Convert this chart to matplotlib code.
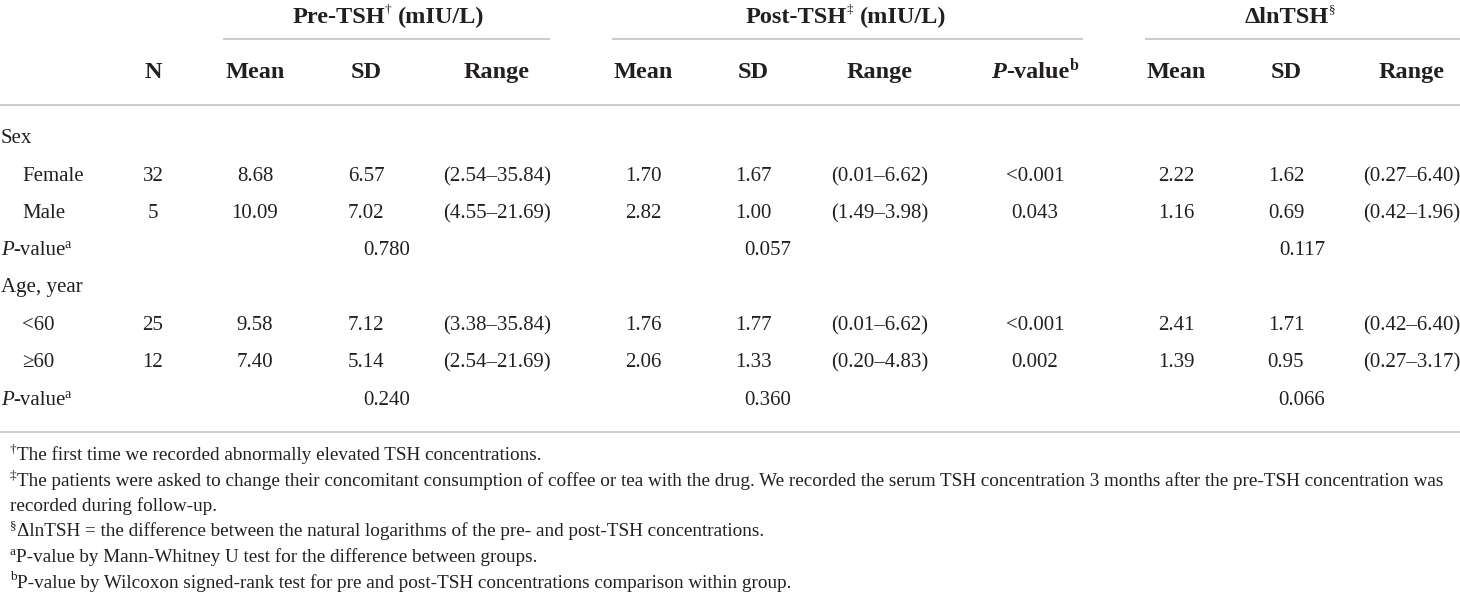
import matplotlib
matplotlib.use("Agg")
import matplotlib.pyplot as plt
from matplotlib.transforms import IdentityTransform
from matplotlib.lines import Line2D

# ---------------- data ----------------
group_labels = ["Sex", "Age, year"]
sub_labels = [["Female", "Male"], ["<60", "\u226560"]]
n_vals = [32, 5, 25, 12]
pre_mean = [8.68, 10.09, 9.58, 7.40]
pre_sd = [6.57, 7.02, 7.12, 5.14]
pre_lo = [2.54, 4.55, 3.38, 2.54]
pre_hi = [35.84, 21.69, 35.84, 21.69]
post_mean = [1.70, 2.82, 1.76, 2.06]
post_sd = [1.67, 1.00, 1.77, 1.33]
post_lo = [0.01, 1.49, 0.01, 0.20]
post_hi = [6.62, 3.98, 6.62, 4.83]
p_within = ["<0.001", "0.043", "<0.001", "0.002"]
d_mean = [2.22, 1.16, 2.41, 1.39]
d_sd = [1.62, 0.69, 1.71, 0.95]
d_lo = [0.27, 0.42, 0.42, 0.27]
d_hi = [6.40, 1.96, 6.40, 3.17]
p_between_pre = ["0.780", "0.240"]
p_between_post = ["0.057", "0.360"]
p_between_delta = ["0.117", "0.066"]
sub_headers = ["N", "Mean", "SD", "Range", "Mean", "SD", "Range", None, "Mean", "SD", "Range"]
footnotes = [
    ("\u2020", "The first time we recorded abnormally elevated TSH concentrations."),
    ("\u2021", "The patients were asked to change their concomitant consumption of coffee or tea with the drug. We recorded the serum TSH concentration 3 months after the pre-TSH concentration was"),
    ("", "recorded during follow-up."),
    ("\u00a7", "\u0394lnTSH = the difference between the natural logarithms of the pre- and post-TSH concentrations."),
    ("a", "P-value by Mann-Whitney U test for the difference between groups."),
    ("b", "P-value by Wilcoxon signed-rank test for pre and post-TSH concentrations comparison within group."),
]

# ---------------- layout ----------------
W, H = 1460, 594
fig = plt.figure(figsize=(W / 100, H / 100), dpi=100)
fig.patch.set_facecolor("white")
R = fig.canvas.get_renderer()
FAM = "Liberation Serif"
TXT = "#231f20"
LINE = "#cccccc"

BODY = 15.0
HEAD = 17.5
FOOT = 13.75


def T(x, base, s, size, weight="normal", style="normal", ha="left", dy=0.0):
    return fig.text(x, H - base + dy, s, transform=IdentityTransform(), fontsize=size,
                    fontweight=weight, fontstyle=style, ha=ha, va="baseline",
                    family=FAM, color=TXT)


def rich(x, base, segs, ha="center", base_size=BODY):
    objs = []
    total = 0.0
    for sg in segs:
        t = T(0, base, sg["text"], sg.get("size", base_size), sg.get("weight", "normal"),
              sg.get("style", "normal"), "left", sg.get("dy", 0.0))
        w = t.get_window_extent(R).width
        g = sg.get("gap", 0.0)
        objs.append((t, g, w))
        total += g + w
    cur = x - total / 2 if ha == "center" else x
    for t, g, w in objs:
        cur += g
        t.set_x(cur)
        cur += w


def hline(x0, x1, y, lw=1.5):
    fig.add_artist(Line2D([x0, x1], [H - y, H - y], transform=IdentityTransform(),
                          color=LINE, linewidth=lw, solid_capstyle="butt"))


# column centres (pixels)
cx = [153, 255, 366, 497, 643, 753, 880, 1035, 1176, 1286, 1412]

# group header row
yh1 = 23
rich(388, yh1, [dict(text="Pre-TSH", weight="bold", size=HEAD),
                dict(text="\u2020", size=9.5, dy=10, gap=0),
                dict(text="(mIU/L)", weight="bold", size=HEAD, gap=6)], base_size=HEAD)
rich(846, yh1, [dict(text="Post-TSH", weight="bold", size=HEAD),
                dict(text="\u2021", size=9.5, dy=10, gap=0),
                dict(text="(mIU/L)", weight="bold", size=HEAD, gap=6)], base_size=HEAD)
rich(1290, yh1, [dict(text="\u0394lnTSH", weight="bold", size=HEAD),
                 dict(text="\u00a7", size=9.5, dy=10, gap=0)], base_size=HEAD)

hline(223, 550, 38.5)
hline(612, 1083, 38.5)
hline(1145, 1460, 38.5)

yh2 = 78
for x, s in zip(cx, sub_headers):
    if s is None:
        rich(x, yh2, [dict(text="P", weight="bold", style="italic", size=HEAD),
                      dict(text="-value", weight="bold", size=HEAD),
                      dict(text="b", weight="bold", size=11.5, dy=8, gap=0)], base_size=HEAD)
    else:
        T(x, yh2, s, HEAD, weight="bold", ha="center")

hline(0, W, 104.5)

# body (baselines)
group_y = [143, 292]
row_y = [[181, 218], [330, 367]]
pval_y = [255, 405]
between = [p_between_pre, p_between_post, p_between_delta]
between_x = [387, 768, 1302]

i = 0
for g in range(len(group_labels)):
    T(1, group_y[g], group_labels[g], BODY)
    for k in range(2):
        y = row_y[g][k]
        T(22, y, sub_labels[g][k], BODY)
        vals = [
            f"{n_vals[i]}",
            f"{pre_mean[i]:.2f}", f"{pre_sd[i]:.2f}", f"({pre_lo[i]:.2f}\u2013{pre_hi[i]:.2f})",
            f"{post_mean[i]:.2f}", f"{post_sd[i]:.2f}", f"({post_lo[i]:.2f}\u2013{post_hi[i]:.2f})",
            p_within[i],
            f"{d_mean[i]:.2f}", f"{d_sd[i]:.2f}", f"({d_lo[i]:.2f}\u2013{d_hi[i]:.2f})",
        ]
        for x, s in zip(cx, vals):
            T(x, y, s, BODY, ha="center")
        i += 1
    rich(1, pval_y[g], [dict(text="P", style="italic"), dict(text="-value"),
                        dict(text="a", size=10, dy=7, gap=-2)], ha="left")
    for bx, arr in zip(between_x, between):
        T(bx, pval_y[g], arr[g], BODY, ha="center")

hline(0, W, 432)

# footnotes (baselines)
foot_y = [460, 485.5, 511, 536.5, 562, 587.5]
for (mark, txt), y in zip(footnotes, foot_y):
    segs = []
    if mark:
        segs.append(dict(text=mark, size=9.5, dy=7))
    segs.append(dict(text=txt, size=FOOT, gap=0 if mark else 0))
    rich(10, y, segs, ha="left", base_size=FOOT)

fig.savefig("out.png", dpi=100, facecolor="white")
